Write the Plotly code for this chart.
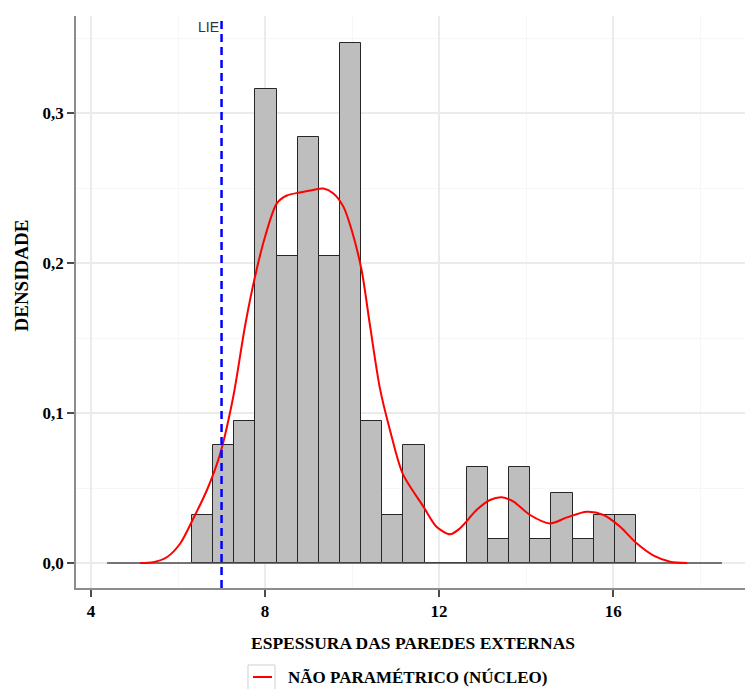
import plotly.graph_objects as go

# Histogram of wall thickness (density scale), 21 equal bins
bin_start = 6.32
bin_width = 0.486
bar_density = [0.032, 0.079, 0.095, 0.316, 0.205, 0.284, 0.205, 0.347, 0.095, 0.032,
               0.079, 0.0, 0.0, 0.064, 0.016, 0.064, 0.016, 0.047, 0.016, 0.032, 0.032]

# Kernel density estimate (non-parametric fit)
kde_x = [5.13, 5.43, 5.75, 6.05, 6.34, 6.67, 6.97, 7.27, 7.54, 7.77, 8.00, 8.27, 8.50,
         8.80, 9.10, 9.34, 9.57, 9.80, 9.99, 10.22, 10.41, 10.64, 10.87, 11.16, 11.64,
         11.94, 12.25, 12.48, 12.86, 13.17, 13.44, 13.71, 14.09, 14.55, 14.94, 15.39,
         15.78, 16.16, 16.54, 16.93, 17.31, 17.70]
kde_y = [0.0, 0.0005, 0.004, 0.013, 0.029, 0.049, 0.073, 0.111, 0.158, 0.191, 0.2175,
         0.2398, 0.245, 0.247, 0.2487, 0.2496, 0.2464, 0.2376, 0.222, 0.195, 0.1587,
         0.1164, 0.0887, 0.0598, 0.0376, 0.0242, 0.0191, 0.0231, 0.0353, 0.042, 0.0438,
         0.0409, 0.032, 0.0264, 0.0304, 0.0342, 0.032, 0.0242, 0.0131, 0.0049, 0.0009, 0.0]

# Lower specification limit
lie_value = 7.0
lie_label = "LIE"

# Extent of the zero baseline
baseline_x = [4.37, 18.5]

x_ticks = [4, 8, 12, 16]
y_ticks = [0.0, 0.1, 0.2, 0.3]
y_ticklabels = ["0,0", "0,1", "0,2", "0,3"]

x_title = "ESPESSURA DAS PAREDES EXTERNAS"
y_title = "DENSIDADE"
kde_name = "NÃO PARAMÉTRICO (NÚCLEO)"

serif = "Liberation Serif"
sans = "Liberation Sans"
kde_color = "#ff0000"

centers = [bin_start + bin_width * (i + 0.5) for i in range(len(bar_density))]

fig = go.Figure()

fig.add_trace(go.Scatter(
    x=baseline_x, y=[0, 0], mode="lines",
    line=dict(color="#4d4d4d", width=1.5),
    showlegend=False, hoverinfo="skip",
))

fig.add_trace(go.Bar(
    x=centers, y=bar_density, width=bin_width,
    marker=dict(color="#bebebe", line=dict(color="#262626", width=1)),
    showlegend=False,
))

fig.add_trace(go.Scatter(
    x=kde_x, y=kde_y, mode="lines", name=kde_name,
    line=dict(color=kde_color, width=2, shape="spline", smoothing=0.8),
    showlegend=False,
))

fig.add_shape(
    type="line", x0=lie_value, x1=lie_value, xref="x", y0=0, y1=1, yref="paper",
    line=dict(color="#0000ff", width=2.5, dash="8px,5px"),
)
fig.add_annotation(
    x=lie_value, y=1, xref="x", yref="paper", text=lie_label, showarrow=False,
    xanchor="right", yanchor="top", xshift=-1, yshift=-1,
    font=dict(family=sans, size=14, color="#333333"),
)

# legend below the title: framed key with a short red line, then the label
fig.add_shape(
    type="rect", xref="paper", yref="paper",
    x0=0.2571, x1=0.2975, y0=-0.1835, y1=-0.1346,
    line=dict(color="#d0d0d0", width=1), fillcolor="rgba(0,0,0,0)",
)
fig.add_shape(
    type="line", xref="paper", yref="paper",
    x0=0.2646, x1=0.2930, y0=-0.1556, y1=-0.1556,
    line=dict(color=kde_color, width=2),
)
fig.add_annotation(
    x=0.3139, y=-0.1556, xref="paper", yref="paper", text="<b>%s</b>" % kde_name,
    showarrow=False, xanchor="left", yanchor="middle",
    font=dict(family=serif, size=17, color="#000000"),
)

# axis titles
fig.add_annotation(
    x=0.504, y=-0.097, xref="paper", yref="paper", text="<b>%s</b>" % x_title,
    showarrow=False, xanchor="center", yanchor="middle",
    font=dict(family=serif, size=17.5, color="#000000"),
)
fig.add_annotation(
    x=-0.081, y=0.546, xref="paper", yref="paper", text="<b>%s</b>" % y_title,
    showarrow=False, xanchor="center", yanchor="middle", textangle=-90,
    font=dict(family=serif, size=19, color="#000000"),
)

grid_major = "#ebebeb"
grid_minor = "#f6f6f6"

fig.update_xaxes(
    range=[3.655, 19.03], tickvals=x_ticks, ticktext=[str(v) for v in x_ticks],
    showgrid=True, gridcolor=grid_major, gridwidth=1.5,
    minor=dict(tickvals=[6, 10, 14, 18], showgrid=True, gridcolor=grid_minor, gridwidth=1, ticks=""),
    showline=True, linecolor="#8c8c8c", linewidth=1.5,
    ticks="outside", ticklen=7, tickcolor="#4d4d4d", tickwidth=1.5,
    tickfont=dict(family=serif, size=17, color="#000000", weight="bold"),
    zeroline=False,
)
fig.update_yaxes(
    range=[-0.01667, 0.36467], tickvals=y_ticks, ticktext=y_ticklabels,
    showgrid=True, gridcolor=grid_major, gridwidth=1.5,
    minor=dict(tickvals=[0.05, 0.15, 0.25, 0.35], showgrid=True, gridcolor=grid_minor, gridwidth=1, ticks=""),
    showline=True, linecolor="#8c8c8c", linewidth=1.5,
    ticks="outside", ticklen=7, tickcolor="#4d4d4d", tickwidth=1.5,
    tickfont=dict(family=serif, size=17, color="#000000", weight="bold"),
    zeroline=False,
)

fig.update_layout(
    width=745, height=689,
    margin=dict(l=76, r=0, t=16, b=101, autoexpand=False),
    plot_bgcolor="#ffffff", paper_bgcolor="#ffffff",
    bargap=0,
    showlegend=False,
)

fig.write_html("out.html")
